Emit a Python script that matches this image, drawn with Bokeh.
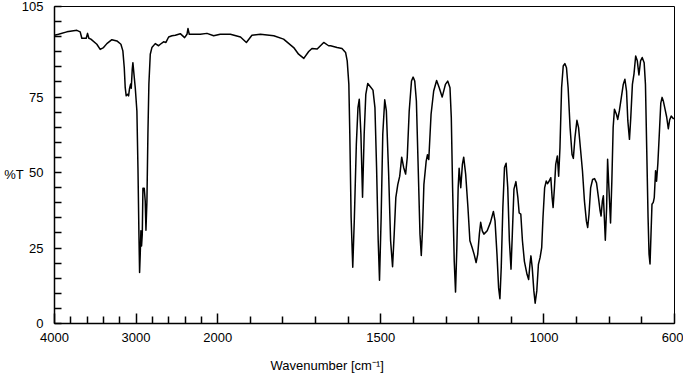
import numpy as np
from bokeh.plotting import figure
from bokeh.models import Range1d, FixedTicker, Title
from bokeh.embed import file_html
from bokeh.resources import INLINE

# ---- data ----
wavenumber = [
    4000, 3951, 3849, 3787, 3726, 3685, 3665, 3611, 3595, 3579, 3554, 3481, 3440, 3399, 3358,
    3297, 3235, 3186, 3162, 3145, 3133, 3121, 3104, 3092, 3080, 3067, 3059, 3047, 3039, 3022,
    3010, 2990, 2977, 2965, 2957, 2949, 2941, 2933, 2924, 2916, 2900, 2888, 2879, 2867, 2855,
    2843, 2826, 2806, 2765, 2724, 2703, 2663, 2634, 2601, 2560, 2519, 2458, 2405, 2376, 2364,
    2348, 2294, 2213, 2131, 2049, 1992, 1961, 1930, 1912, 1895, 1869, 1828, 1798, 1767, 1752,
    1736, 1721, 1711, 1695, 1675, 1660,
    1654, 1634, 1619, 1608, 1603, 1598, 1595, 1591, 1586, 1581, 1575, 1570, 1566, 1561, 1556,
    1551, 1546, 1540, 1532, 1524, 1518, 1513, 1508, 1504, 1499, 1494, 1488, 1483, 1476, 1470,
    1464, 1459, 1454, 1448, 1442, 1436, 1430, 1424, 1419, 1413, 1406, 1401, 1396, 1391, 1386,
    1380, 1376, 1372, 1368, 1361, 1357, 1353, 1346, 1338, 1329, 1321, 1312, 1302, 1295, 1288,
    1284, 1280, 1275, 1271, 1267, 1263, 1260, 1255, 1250, 1246, 1240, 1233, 1227, 1220, 1214,
    1208, 1203, 1198, 1194, 1189, 1184, 1174, 1164, 1155, 1150, 1144, 1139, 1135, 1131, 1126,
    1121, 1116, 1111, 1106, 1101, 1097, 1092, 1086, 1080, 1076, 1071, 1066, 1060, 1052, 1047,
    1043, 1040, 1036, 1031, 1027, 1022, 1017, 1012, 1007, 1003, 998, 993, 989, 984, 979,
    975, 972, 968, 964, 959, 955, 951, 946, 941, 936, 931, 926, 920, 914, 910,
    905, 899, 894, 888, 882, 876, 870, 866, 862, 857, 851, 845, 839, 833, 828,
    825, 821, 818, 815, 812, 808, 805, 801, 796, 792, 788, 784, 778, 774, 769,
    763, 757, 752, 747, 743, 738, 734, 729, 724, 719, 714, 709, 704, 699, 693,
    689, 685, 681, 678, 675, 672, 669, 665, 662, 658, 655, 651, 646, 642, 638,
    634, 629, 624, 619, 615, 610, 604, 600,
]
transmittance = [
    95.5, 95.8, 96.6, 96.9, 97.1, 96.6, 94.5, 94.5, 96.1, 94.5, 94.2, 92.5, 90.8, 91.4, 92.7,
    94.0, 93.6, 92.5, 90.3, 84.8, 78.1, 75.4, 75.9, 75.4, 77.9, 79.3, 77.9, 84.2, 86.4, 81.5,
    78.1, 70.4, 51.7, 29.6, 16.9, 23.0, 30.7, 25.7, 29.6, 44.8, 44.8, 40.6, 30.9, 40.6, 62.7,
    79.3, 89.2, 91.4, 92.7, 92.0, 92.5, 93.3, 93.1, 94.9, 95.3, 95.5, 96.0, 94.7, 95.8, 97.7,
    95.8, 95.8, 95.8, 96.1, 95.3, 95.8, 95.8, 94.9, 93.1, 95.5, 95.8, 95.3, 94.2, 91.4, 89.2,
    87.8, 90.1, 91.1, 90.9, 93.1, 92.0,
    92.0, 91.4, 91.1, 89.8, 87.0, 79.3, 62.7, 35.1, 18.6, 35.1, 59.4, 71.5, 74.3, 62.7, 41.8,
    62.7, 75.9, 79.5, 78.4, 77.3, 71.5, 51.7, 27.4, 14.3, 35.1, 62.7, 74.1, 70.4, 49.5, 27.4,
    18.8, 29.6, 41.7, 46.0, 48.8, 55.1, 51.7, 49.5, 55.0, 70.4, 80.3, 81.6, 80.3, 73.7, 53.8,
    29.6, 22.5, 31.8, 46.0, 53.8, 55.9, 54.3, 69.3, 77.0, 80.5, 78.1, 75.0, 79.2, 80.3, 78.1,
    68.2, 44.9, 20.6, 10.4, 25.1, 44.9, 51.4, 45.0, 52.7, 55.1, 49.5, 38.4, 27.4, 25.1, 22.9,
    20.2, 22.9, 29.6, 33.5, 30.7, 29.6, 30.7, 33.5, 37.1, 34.0, 22.9, 11.8, 8.2, 18.5, 38.4,
    51.7, 53.1, 45.0, 27.4, 18.0, 29.6, 44.5, 47.0, 41.7, 36.6, 36.2, 27.4, 20.6, 16.3, 14.6,
    19.6, 22.4, 18.5, 10.8, 6.7, 10.8, 19.6, 21.8, 25.1, 35.1, 44.9, 47.2, 46.3, 47.2, 48.3,
    41.7, 38.4, 44.9, 52.7, 55.5, 48.8, 58.2, 78.1, 85.3, 86.1, 84.7, 78.1, 64.9, 56.0, 54.7,
    61.6, 67.3, 64.9, 57.7, 50.5, 40.6, 33.9, 31.8, 36.2, 44.9, 47.7, 48.0, 46.6, 41.7, 37.3,
    35.6, 40.6, 42.3, 35.1, 27.6, 38.4, 54.4, 44.9, 33.3, 47.2, 64.9, 71.0, 69.3, 67.6, 70.4,
    74.8, 79.2, 80.9, 77.0, 67.1, 61.0, 68.2, 79.2, 82.8, 88.6, 87.0, 82.3, 87.0, 88.1, 86.4,
    79.2, 57.1, 35.1, 23.0, 19.7, 29.6, 39.5, 40.1, 41.7, 50.6, 47.1, 53.0, 64.0, 73.0, 74.9,
    73.6, 71.0, 68.4, 64.5, 67.4, 68.7, 67.9, 67.9,
]

x_major_ticks = [4000, 3000, 2000, 1500, 1000, 600]
x_major_labels = ["4000", "3000", "2000", "1500", "1000", "600"]
x_minor_ticks = [3800, 3600, 3400, 3200, 2800, 2600, 2400, 2200,
                 1900, 1800, 1700, 1600, 1400, 1300, 1200, 1100, 900, 800, 700]
y_major_ticks = [0, 25, 50, 75, 105]
y_minor_ticks = [v for v in range(5, 105, 5) if v not in (25, 50, 75)]
x_title = "Wavenumber [cm\u207b\u00b9]"
y_title = "%T"


def to_axis(wn):
    """Split wavenumber axis: the 4000-2000 region is compressed 4x."""
    wn = np.asarray(wn, dtype=float)
    return np.where(wn > 2000, 2000 + (wn - 2000) / 4.0, wn)


FONT = "Liberation Sans"

p = figure(width=683, height=375, output_backend="svg", toolbar_location=None,
           x_range=Range1d(float(to_axis(4000)), 600), y_range=Range1d(0, 105),
           min_border_left=54, min_border_right=9, min_border_top=6, min_border_bottom=52,
           background_fill_color="white", border_fill_color="white")
p.outline_line_color = "black"
p.outline_line_width = 1
p.xgrid.visible = False
p.ygrid.visible = False

p.line(to_axis(wavenumber), transmittance, line_color="black", line_width=1.5,
       line_join="round")

# x axis
xa = p.xaxis[0]
major_u = [int(round(float(v))) for v in to_axis(x_major_ticks)]
minor_u = [float(v) for v in to_axis(x_minor_ticks)]
xa.ticker = FixedTicker(ticks=major_u, minor_ticks=minor_u)
xa.major_label_overrides = {u: lab for u, lab in zip(major_u, x_major_labels)}
xa.major_tick_in = 10
xa.major_tick_out = 0
xa.minor_tick_in = 7
xa.minor_tick_out = 0
xa.axis_line_width = 1.5
xa.major_tick_line_width = 1.5
xa.minor_tick_line_width = 1.5
xa.major_label_standoff = 9
xa.major_label_text_font = FONT
xa.major_label_text_font_size = "13px"
xa.major_label_text_color = "black"
# blank spacer label: pushes the title below a little further down
xa.axis_label = " "
xa.axis_label_standoff = 0
xa.axis_label_text_font_size = "6px"

# y axis
ya = p.yaxis[0]
ya.ticker = FixedTicker(ticks=y_major_ticks, minor_ticks=y_minor_ticks)
ya.major_tick_in = 7
ya.major_tick_out = 0
ya.minor_tick_in = 7
ya.minor_tick_out = 0
ya.axis_line_width = 1.5
ya.major_tick_line_width = 1.5
ya.minor_tick_line_width = 1.5
ya.major_label_standoff = 11
ya.major_label_text_font = FONT
ya.major_label_text_font_size = "13px"
ya.major_label_text_color = "black"
ya.axis_label = "\n" + y_title
ya.axis_label_orientation = "horizontal"
ya.axis_label_standoff = -5
ya.axis_label_text_font = FONT
ya.axis_label_text_font_size = "13px"
ya.axis_label_text_font_style = "normal"
ya.axis_label_text_color = "black"

# x axis title, placed left of centre as in the reference
t_kwargs = dict(text=x_title, align="left", offset=216, text_font=FONT,
                text_font_size="13px", text_font_style="normal", text_color="black")
if "standoff" in Title.properties():
    t_kwargs["standoff"] = 4
p.add_layout(Title(**t_kwargs), "below")

open("out.html", "w", encoding="utf-8").write(file_html(p, INLINE))
